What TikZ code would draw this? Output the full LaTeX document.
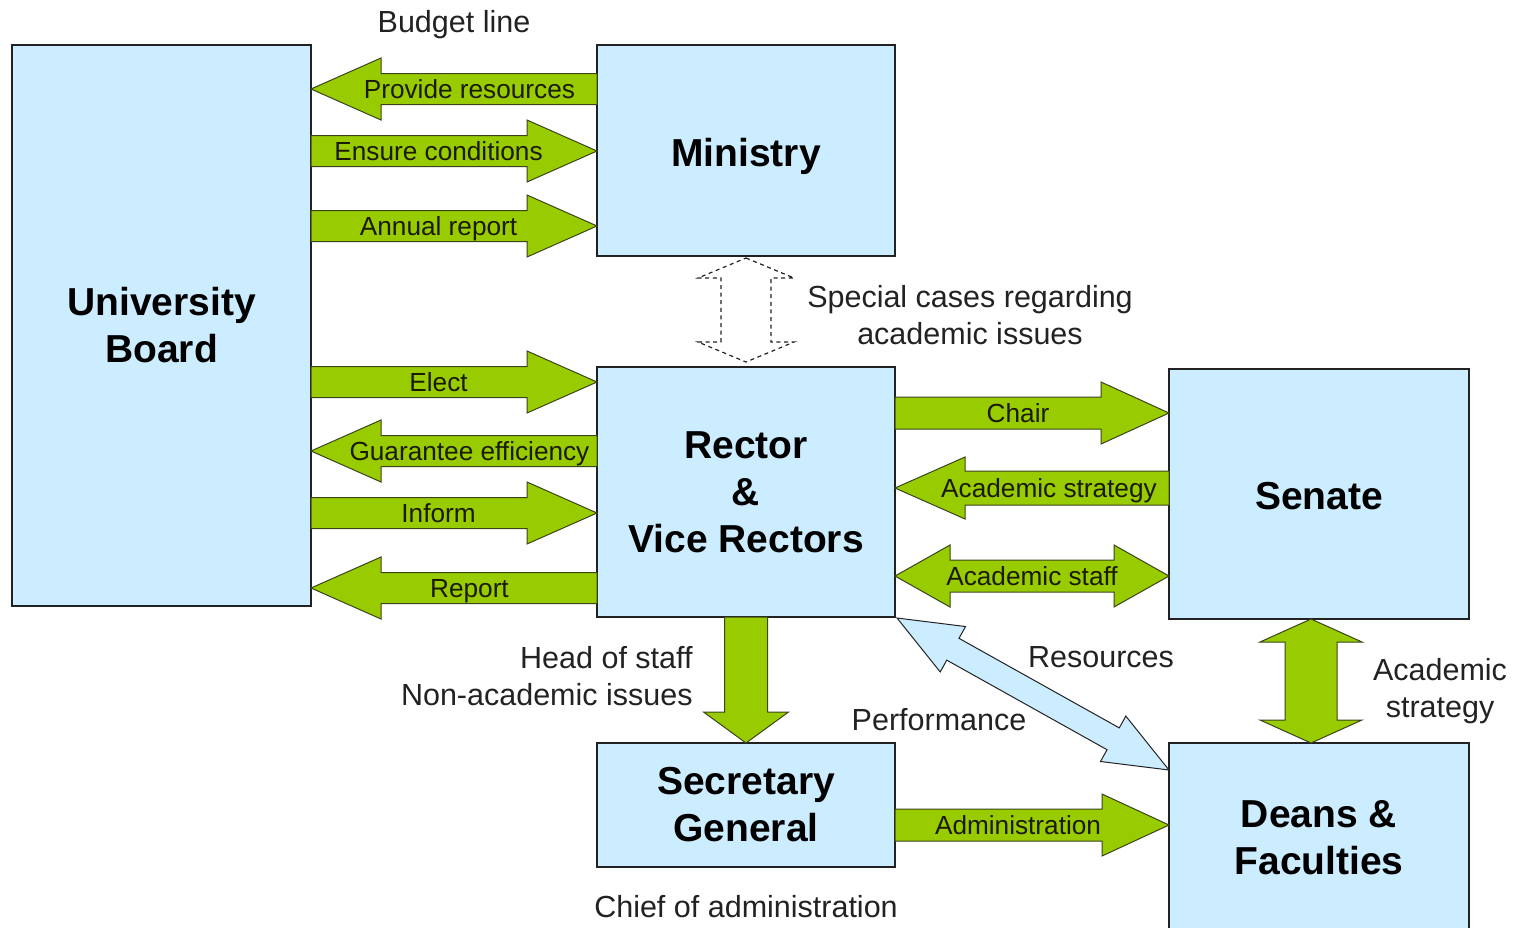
\documentclass[tikz,border=0pt]{standalone}
\usepackage{fontspec}
\setmainfont{Liberation Sans}
\usetikzlibrary{calc}
\definecolor{boxblue}{HTML}{CCECFF}
\definecolor{agreen}{HTML}{99CC00}
\definecolor{edge}{HTML}{222222}
\definecolor{atext}{HTML}{1A1A00}
\newcommand\blockarr[6][]{%
  \coordinate (bA) at (#2); \coordinate (bB) at (#3);
  \coordinate (bH) at ($(bB)!#6!(bA)$);
  \draw[#1] ($(bA)!#4!90:(bB)$) -- ($(bH)!#4!90:(bB)$) -- ($(bH)!#5!90:(bB)$) -- (bB)
    -- ($(bH)!#5!-90:(bB)$) -- ($(bH)!#4!-90:(bB)$) -- ($(bA)!#4!-90:(bB)$) -- cycle;}
\newcommand\dblarr[6][]{%
  \coordinate (bA) at (#2); \coordinate (bB) at (#3);
  \coordinate (bH) at ($(bB)!#6!(bA)$); \coordinate (bG) at ($(bA)!#6!(bB)$);
  \draw[#1] (bA) -- ($(bG)!#5!90:(bB)$) -- ($(bG)!#4!90:(bB)$) -- ($(bH)!#4!90:(bB)$)
    -- ($(bH)!#5!90:(bB)$) -- (bB) -- ($(bH)!#5!-90:(bB)$) -- ($(bH)!#4!-90:(bB)$)
    -- ($(bG)!#4!-90:(bB)$) -- ($(bG)!#5!-90:(bB)$) -- cycle;}
\newcommand\lowr[2]{\raisebox{-#1}[\height][\depth]{#2}}
\tikzset{
  box/.style={draw=edge, line width=1pt, fill=boxblue, inner sep=0pt, outer sep=0pt,
    align=center, font=\fontsize{19.5pt}{23.5pt}\selectfont\bfseries},
  garr/.style={draw=edge!80!agreen, line width=0.5pt, fill=agreen, line join=miter},
  barr/.style={draw=edge, line width=0.5pt, fill=boxblue},
  harr/.style={draw=edge, line width=0.6pt, dash pattern=on 2pt off 1.8pt, fill=white},
  alab/.style={text=atext, inner sep=0pt, text height=9.4pt, text depth=0pt,
    font=\fontsize{13.1pt}{15pt}\selectfont},
  olab/.style={text=edge, inner sep=0pt, align=center, font=\fontsize{15.25pt}{18.5pt}\selectfont},
  olab1/.style={olab, text height=10.9pt, text depth=0pt}
}
\begin{document}
\begin{tikzpicture}[x=0.5pt, y=-0.5pt]
\useasboundingbox (0,0) rectangle (1518,927);
\clip (0,0) rectangle (1518,927);
% boxes
\node[box, minimum width=149.5pt, minimum height=280.5pt] (ub) at (161.5,325.5) {University\\Board};
\node[box, minimum width=149pt, minimum height=105.5pt] (mi) at (746,150.5) {\lowr{3pt}{Ministry}};
\node[box, minimum width=149pt, minimum height=125pt] (rv) at (746,492) {Rector\\\&\\Vice Rectors};
\node[box, minimum width=150pt, minimum height=125pt] (se) at (1319,494) {\lowr{1pt}{Senate}};
\node[box, minimum width=149pt, minimum height=62pt] (sg) at (746,805) {Secretary\\General};
\node[box, minimum width=150pt, minimum height=95pt] (df) at (1319,838) {Deans \&\\Faculties};
% arrow end points
\coordinate (prA) at (mi.west |- 0,89);  \coordinate (prB) at (ub.east |- 0,89);
\coordinate (ecA) at (ub.east |- 0,151); \coordinate (ecB) at (mi.west |- 0,151);
\coordinate (arA) at (ub.east |- 0,226); \coordinate (arB) at (mi.west |- 0,226);
\coordinate (elA) at (ub.east |- 0,382); \coordinate (elB) at (rv.west |- 0,382);
\coordinate (geA) at (rv.west |- 0,451); \coordinate (geB) at (ub.east |- 0,451);
\coordinate (inA) at (ub.east |- 0,513); \coordinate (inB) at (rv.west |- 0,513);
\coordinate (reA) at (rv.west |- 0,588); \coordinate (reB) at (ub.east |- 0,588);
\coordinate (chA) at (rv.east |- 0,413); \coordinate (chB) at (se.west |- 0,413);
\coordinate (asA) at (se.west |- 0,488); \coordinate (asB) at (rv.east |- 0,488);
\coordinate (stA) at (rv.east |- 0,576); \coordinate (stB) at (se.west |- 0,576);
\coordinate (hsA) at (rv.south); \coordinate (hsB) at (sg.north);
\coordinate (avA) at (1311,0 |- se.south); \coordinate (avB) at (1311,0 |- df.north);
\coordinate (adA) at (sg.east |- 0,825); \coordinate (adB) at (df.west |- 0,825);
\coordinate (rsA) at ($(rv.south east)+(2,1)$); \coordinate (rsB) at (df.west |- 0,770);
\coordinate (dcA) at ($(mi.south)+(0,2)$); \coordinate (dcB) at ($(rv.north)+(0,-5)$);
% arrows
\blockarr[garr]{prA}{prB}{7.75pt}{15.5pt}{35pt}
\blockarr[garr]{ecA}{ecB}{7.75pt}{15.5pt}{35pt}
\blockarr[garr]{arA}{arB}{7.75pt}{15.5pt}{35pt}
\blockarr[garr]{elA}{elB}{7.75pt}{15.5pt}{35pt}
\blockarr[garr]{geA}{geB}{7.75pt}{15.5pt}{35pt}
\blockarr[garr]{inA}{inB}{7.75pt}{15.5pt}{35pt}
\blockarr[garr]{reA}{reB}{7.75pt}{15.5pt}{35pt}
\blockarr[garr]{chA}{chB}{8pt}{15.5pt}{34pt}
\blockarr[garr]{asA}{asB}{8.5pt}{15.5pt}{35pt}
\dblarr[garr]{stA}{stB}{8pt}{15.5pt}{27.5pt}
\blockarr[garr]{hsA}{hsB}{10.75pt}{21.25pt}{15.5pt}
\dblarr[garr]{avA}{avB}{13pt}{25.5pt}{11.5pt}
\blockarr[garr]{adA}{adB}{8pt}{15.5pt}{33.5pt}
\dblarr[barr]{rsA}{rsB}{6.25pt}{13pt}{32pt}
\dblarr[harr]{dcA}{dcB}{12.5pt}{24pt}{10pt}
% arrow labels
\node[alab] (lpr) at ($(prA)!0.446!(prB)$) {Provide resources};
\node[alab] (lec) at ($(ecA)!0.446!(ecB)$) {Ensure conditions};
\node[alab] (lar) at ($(arA)!0.446!(arB)$) {Annual report};
\node[alab] (lel) at ($(elA)!0.446!(elB)$) {Elect};
\node[alab] (lge) at ($(geA)!0.446!(geB)$) {Guarantee efficiency};
\node[alab] (lin) at ($(inA)!0.446!(inB)$) {Inform};
\node[alab] (lre) at ($(reA)!0.446!(reB)$) {Report};
\node[alab] (lch) at ($(chA)!0.449!(chB)$) {Chair};
\node[alab] (las) at ($(asA)!0.438!(asB)$) {Academic strategy};
\node[alab] (lst) at ($(stA)!0.5!(stB)$) {Academic staff};
\node[alab] (lad) at ($(adA)!0.449!(adB)$) {Administration};
% outside labels
\node[olab1] (tbl) at (454,22) {Budget line};
\node[olab] (tsc) at (970,315.5) {Special cases regarding\\academic issues};
\node[olab, align=right, anchor=east] (ths) at (693,676) {Head of staff\\Non-academic issues};
\node[olab1] (tpf) at (939,720) {Performance};
\node[olab1] (trs) at (1101,657) {Resources};
\node[olab] (tas) at (1440,691.5) {Academic\\strategy};
\node[olab1] (tca) at (746,907) {Chief of administration};
\end{tikzpicture}
\end{document}
